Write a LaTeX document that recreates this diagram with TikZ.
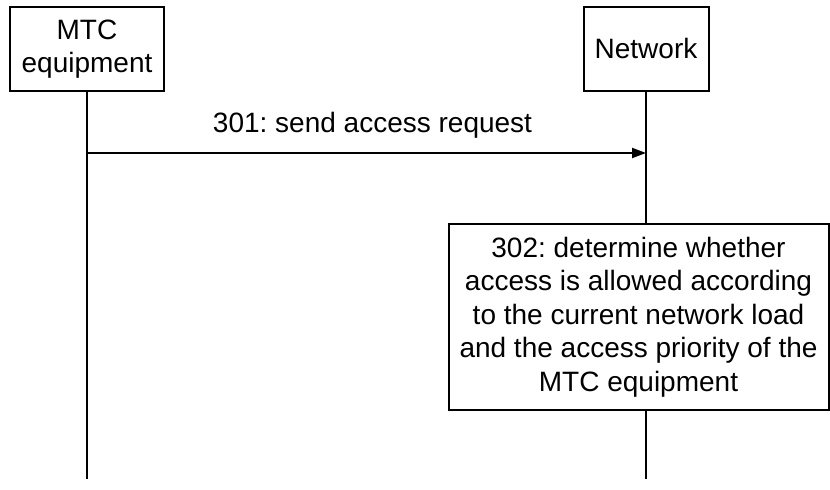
\documentclass[tikz,border=0pt]{standalone}
\usepackage{fontspec}
\setmainfont{Liberation Sans}
\usetikzlibrary{arrows.meta, positioning}

\begin{document}
\frenchspacing
\begin{tikzpicture}[
        x=0.5pt, y=-0.5pt,
        every node/.style={font=\fontsize{14pt}{16.75pt}\selectfont},
        entity/.style={rectangle, draw=black, line width=1pt, fill=white, align=center, minimum height=42pt, inner sep=0pt},
        process/.style={rectangle, draw=black, line width=1pt, fill=white, align=center, minimum width=190pt, minimum height=93pt, inner sep=0pt},
        lifeline/.style={line width=1pt},
        arrow/.style={-{Triangle[length=7pt, width=5pt]}, line width=1pt}
    ]
        \useasboundingbox (0,0) rectangle (830,490);
        % Nodes
        \node[entity, minimum width=77pt] (mtc) at (87,49) {MTC\\equipment};
        \node[entity, minimum width=62.5pt] (net) at (646,49) {Network};
        \node[process] (decide) at (638.5,317) {302: determine whether\\access is allowed according\\to the current network load\\and the access priority of the\\MTC equipment};
        \coordinate (req) at (0,153);
        \coordinate (mtcend) at (87,479);
        \coordinate (netend) at (646,479);

        % Lifelines
        \draw[lifeline] (mtc) -- (mtcend);
        \draw[lifeline] (net) -- (net |- decide.north);
        \draw[lifeline] (net |- decide.south) -- (netend);

        % Arrows
        \draw[arrow] (mtc |- req) -- (net |- req) node[midway, anchor=base, xshift=3pt, yshift=10pt] {301: send access request};
    \end{tikzpicture}
\end{document}
